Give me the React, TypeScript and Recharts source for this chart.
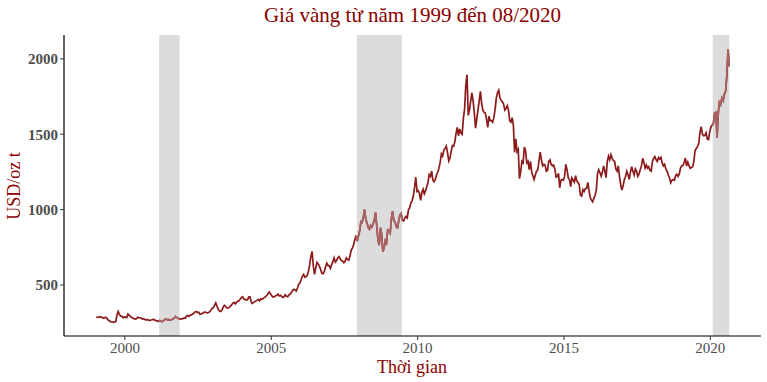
import React from 'react'
import { LineChart, Line, XAxis, YAxis, ReferenceArea } from 'recharts'

// semi-monthly gold price (USD/oz t), two readings per month
const p1999 = [288, 286, 287, 290, 287, 284, 280, 285, 286, 276, 266, 262, 256, 255, 253, 256, 258, 300, 325, 305, 294, 293, 283, 289]
const p2000 = [287, 284, 308, 300, 292, 285, 281, 277, 274, 276, 287, 284, 282, 280, 274, 277, 272, 268, 272, 265, 266, 268, 270, 273]
const p2001 = [267, 264, 262, 258, 265, 260, 257, 261, 270, 274, 270, 272, 267, 268, 272, 275, 280, 292, 285, 279, 278, 274, 275, 277]
const p2002 = [282, 280, 294, 298, 292, 300, 302, 308, 312, 322, 325, 318, 320, 306, 308, 312, 316, 322, 318, 315, 318, 322, 332, 345]
const p2003 = [350, 365, 382, 360, 340, 328, 325, 332, 352, 365, 358, 348, 347, 352, 360, 368, 380, 385, 375, 385, 392, 396, 406, 416]
const p2004 = [422, 408, 405, 400, 402, 420, 422, 390, 378, 385, 390, 395, 400, 405, 395, 408, 405, 412, 418, 425, 432, 445, 453, 440]
const p2005 = [428, 420, 423, 428, 432, 440, 428, 432, 425, 418, 422, 435, 425, 422, 435, 440, 450, 465, 472, 468, 460, 480, 505, 515]
const p2006 = [535, 558, 570, 552, 555, 565, 592, 635, 690, 722, 625, 570, 615, 650, 640, 625, 602, 578, 575, 590, 620, 645, 630, 628]
const p2007 = [610, 635, 655, 680, 652, 662, 680, 688, 675, 662, 658, 648, 658, 680, 670, 665, 690, 730, 745, 765, 800, 828, 792, 825]
const p2008 = [860, 920, 915, 950, 1000, 935, 912, 882, 870, 895, 885, 905, 935, 980, 890, 800, 765, 880, 840, 720, 745, 795, 780, 865]
const p2009 = [860, 845, 940, 990, 925, 920, 885, 880, 925, 965, 975, 930, 925, 945, 955, 945, 1000, 1012, 1045, 1060, 1090, 1150, 1215, 1120]
const p2010 = [1125, 1108, 1062, 1115, 1135, 1105, 1125, 1152, 1180, 1232, 1220, 1255, 1195, 1185, 1200, 1230, 1248, 1275, 1315, 1370, 1355, 1395, 1405, 1420]
const p2011 = [1380, 1322, 1340, 1385, 1425, 1420, 1450, 1505, 1545, 1490, 1535, 1510, 1500, 1605, 1665, 1825, 1895, 1625, 1660, 1720, 1775, 1720, 1640, 1540]
const p2012 = [1600, 1662, 1722, 1785, 1702, 1660, 1645, 1640, 1600, 1545, 1620, 1590, 1590, 1580, 1610, 1665, 1740, 1775, 1792, 1740, 1725, 1715, 1700, 1660]
const p2013 = [1670, 1690, 1660, 1590, 1580, 1610, 1560, 1380, 1470, 1385, 1400, 1205, 1250, 1320, 1310, 1415, 1390, 1310, 1320, 1265, 1320, 1250, 1225, 1200]
const p2014 = [1230, 1255, 1262, 1322, 1382, 1330, 1290, 1300, 1295, 1255, 1260, 1320, 1330, 1300, 1290, 1295, 1270, 1215, 1220, 1240, 1145, 1195, 1200, 1195]
const p2015 = [1222, 1300, 1265, 1210, 1200, 1152, 1210, 1195, 1182, 1225, 1190, 1180, 1165, 1095, 1090, 1132, 1120, 1140, 1140, 1180, 1130, 1080, 1065, 1052]
const p2016 = [1075, 1095, 1130, 1240, 1265, 1245, 1222, 1250, 1290, 1255, 1212, 1320, 1355, 1330, 1365, 1340, 1325, 1320, 1270, 1255, 1290, 1220, 1165, 1130]
const p2017 = [1160, 1200, 1220, 1255, 1232, 1200, 1250, 1285, 1255, 1230, 1270, 1255, 1220, 1235, 1265, 1290, 1340, 1315, 1275, 1295, 1275, 1285, 1260, 1255]
const p2018 = [1320, 1340, 1352, 1330, 1320, 1345, 1335, 1347, 1310, 1290, 1300, 1270, 1255, 1230, 1210, 1178, 1195, 1200, 1195, 1225, 1235, 1220, 1235, 1275]
const p2019 = [1290, 1292, 1312, 1342, 1290, 1315, 1292, 1275, 1280, 1285, 1322, 1392, 1405, 1420, 1440, 1512, 1550, 1500, 1490, 1492, 1510, 1468, 1465, 1515]
const p2020 = [1550, 1560, 1572, 1640, 1645, 1475, 1640, 1722, 1700, 1740, 1722, 1765, 1785, 1885, 2065, 1950]

const yearly: [number, number[]][] = [
  [1999, p1999], [2000, p2000], [2001, p2001], [2002, p2002], [2003, p2003],
  [2004, p2004], [2005, p2005], [2006, p2006], [2007, p2007], [2008, p2008],
  [2009, p2009], [2010, p2010], [2011, p2011], [2012, p2012], [2013, p2013],
  [2014, p2014], [2015, p2015], [2016, p2016], [2017, p2017], [2018, p2018],
  [2019, p2019], [2020, p2020],
]

// recession periods (decimal years)
const recessions: [number, number][] = [
  [2001.17, 2001.87],
  [2007.92, 2009.46],
  [2020.08, 2020.65],
]

const xTicks = [2000, 2005, 2010, 2015, 2020]
const yTicks = [500, 1000, 1500, 2000]

const inRecession = (t: number) =>
  recessions.some(([a, b]) => t >= a - 1 / 40 && t <= b + 1 / 40)

const data = yearly.flatMap(([year, vals]) =>
  vals.map((v, i) => {
    const t = year + i / 24 + 1 / 48
    return { t, price: v, rec: inRecession(t) ? v : null }
  })
)

const RED = '#8b0000'
const FONT = '"Liberation Serif", "Times New Roman", serif'

export default function App() {
  return (
    <div style={{ position: 'absolute', left: 0, top: 0, width: 767, height: 382, background: '#fff', fontFamily: FONT }}>
      <div style={{ position: 'absolute', left: 64, width: 697, top: 3, textAlign: 'center', fontSize: 21, lineHeight: '24px', color: RED }}>
        Giá vàng từ năm 1999 đến 08/2020
      </div>
      <div style={{ position: 'absolute', left: 14, top: 186, transform: 'translate(-50%, -50%) rotate(-90deg)', whiteSpace: 'nowrap', fontSize: 18, color: RED }}>
        USD/oz t
      </div>
      <div style={{ position: 'absolute', left: 412, top: 367, transform: 'translate(-50%, -50%)', whiteSpace: 'nowrap', fontSize: 18, color: RED }}>
        Thời gian
      </div>
      <LineChart width={767} height={382} data={data} margin={{ top: 35, right: 6, bottom: 16, left: 8 }}>
        <XAxis
          dataKey="t"
          type="number"
          domain={[1997.92, 2021.73]}
          ticks={xTicks}
          allowDataOverflow
          height={30}
          tickSize={4}
          tickLine={{ stroke: '#333' }}
          axisLine={{ stroke: '#000', strokeWidth: 1.2 }}
          tick={{ fill: '#4d4d4d', fontSize: 15, fontFamily: FONT }}
        />
        <YAxis
          type="number"
          domain={[162, 2158]}
          ticks={yTicks}
          allowDataOverflow
          width={56}
          tickSize={4}
          tickLine={{ stroke: '#333' }}
          axisLine={{ stroke: '#000', strokeWidth: 1.2 }}
          tick={{ fill: '#4d4d4d', fontSize: 15, fontWeight: 'bold', fontFamily: FONT }}
        />
        {recessions.map(([a, b]) => (
          <ReferenceArea key={a} x1={a} x2={b} fill="#dcdcdc" fillOpacity={1} stroke="none" />
        ))}
        <Line dataKey="price" stroke="#8b1a1a" strokeWidth={1.7} dot={false} isAnimationActive={false} />
        <Line dataKey="rec" stroke="#a86464" strokeWidth={1.7} dot={false} connectNulls={false} isAnimationActive={false} />
      </LineChart>
    </div>
  )
}
